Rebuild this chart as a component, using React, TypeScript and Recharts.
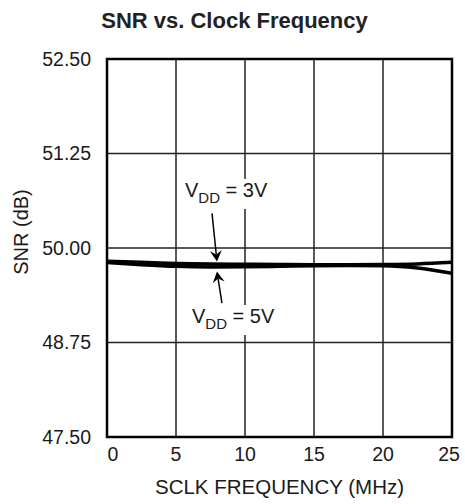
import React from "react"
import {
  CartesianGrid,
  Line,
  LineChart,
  ReferenceArea,
  ReferenceDot,
  ReferenceLine,
  XAxis,
  YAxis,
} from "recharts"

const freqMHz = [0, 2.5, 5, 7.5, 10, 12.5, 15, 17.5, 20, 22.5, 25]
const snrVdd3 = [49.825, 49.81, 49.795, 49.788, 49.785, 49.782, 49.78, 49.78, 49.782, 49.79, 49.81]
const snrVdd5 = [49.81, 49.78, 49.758, 49.75, 49.752, 49.758, 49.765, 49.768, 49.765, 49.735, 49.665]
const xTicks = [0, 5, 10, 15, 20, 25]
const yTicks = [47.5, 48.75, 50, 51.25, 52.5]

const data = freqMHz.map((f, i) => ({ f, v3: snrVdd3[i], v5: snrVdd5[i] }))

const FONT = "'Liberation Sans', Arial, sans-serif"
const INK = "#1a1a1a"

// arrow drawn from (x1,y1) to (x2,y2), head at the end
function Arrow(props: any) {
  const { x1, y1, x2, y2 } = props
  const dx = x2 - x1
  const dy = y2 - y1
  const len = Math.sqrt(dx * dx + dy * dy)
  const ux = dx / len
  const uy = dy / len
  const hl = 11
  const hw = 6
  const bx = x2 - ux * hl
  const by = y2 - uy * hl
  const p1 = `${bx - uy * hw},${by + ux * hw}`
  const p2 = `${bx + uy * hw},${by - ux * hw}`
  const notchX = x2 - ux * hl * 0.65
  const notchY = y2 - uy * hl * 0.65
  return (
    <g>
      <line x1={x1} y1={y1} x2={notchX} y2={notchY} stroke="#000" strokeWidth={1.5} />
      <polygon points={`${x2},${y2} ${p1} ${notchX},${notchY} ${p2}`} fill="#000" />
    </g>
  )
}

// label with a white box behind it, so the grid is knocked out under the text
function vddLabel(volts: string) {
  return (props: any) => {
    const { viewBox } = props
    const x = viewBox.x
    const y = viewBox.y
    return (
      <g>
        <rect x={x - 3} y={y - 18} width={92} height={30} fill="#fff" />
        <text x={x} y={y} fontFamily={FONT} fontSize={20} fill={INK}>
          V
          <tspan fontSize={15} dy={6}>DD</tspan>
          <tspan dy={-6}>{` = ${volts}`}</tspan>
        </text>
      </g>
    )
  }
}

// first/last tick labels are nudged inside the frame like the original
function FreqTick(props: any) {
  const { x, y, payload } = props
  let shift = 0
  if (payload.value === xTicks[0]) shift = 6
  if (payload.value === xTicks[xTicks.length - 1]) shift = -3
  return (
    <text x={x + shift} y={y + 15} textAnchor="middle" fontFamily={FONT} fontSize={19.5} fill={INK}>
      {payload.value}
    </text>
  )
}

export default function App() {
  return (
    <div style={{ position: "absolute", left: 0, top: 0, width: 465, height: 504, background: "#fff" }}>
      <div
        style={{
          position: "absolute",
          left: 0,
          top: 8,
          width: 469,
          textAlign: "center",
          fontFamily: FONT,
          fontWeight: "bold",
          fontSize: 22,
          color: "#222",
          lineHeight: "26px",
        }}
      >
        SNR vs. Clock Frequency
      </div>
      <LineChart
        width={465}
        height={504}
        data={data}
        margin={{ top: 59, right: 13, left: 0, bottom: 0 }}
        style={{ position: "absolute", left: 0, top: 0 }}
      >
        <CartesianGrid stroke="#222" strokeWidth={1.5} horizontalValues={yTicks} verticalValues={xTicks} />
        <XAxis
          dataKey="f"
          type="number"
          domain={[0, 25]}
          ticks={xTicks}
          height={67}
          axisLine={false}
          tickLine={false}
          tickSize={0}
          tickMargin={9}
          tick={FreqTick}
          label={(p: any) => {
            const vb = p.viewBox
            return (
              <text
                x={vb.x + vb.width / 2}
                y={494}
                textAnchor="middle"
                fontFamily={FONT}
                fontSize={20.5}
                fill={INK}
              >
                SCLK FREQUENCY (MHz)
              </text>
            )
          }}
        />
        <YAxis
          type="number"
          domain={[47.5, 52.5]}
          ticks={yTicks}
          width={107}
          axisLine={false}
          tickLine={false}
          tickSize={0}
          tickMargin={16}
          tickFormatter={(v: number) => v.toFixed(2)}
          tick={{ fill: INK, fontSize: 19.5, fontFamily: FONT }}
          label={(p: any) => {
            const vb = p.viewBox
            const cy = vb.y + vb.height / 2 - 16
            return (
              <text
                x={28}
                y={cy}
                transform={`rotate(-90, 28, ${cy})`}
                textAnchor="middle"
                fontFamily={FONT}
                fontSize={20}
                fill={INK}
              >
                SNR (dB)
              </text>
            )
          }}
        />
        <ReferenceDot x={5.65} y={50.675} r={0} fill="none" stroke="none" label={vddLabel("3V")} />
        <ReferenceDot x={6.16} y={49.008} r={0} fill="none" stroke="none" label={vddLabel("5V")} />
        <ReferenceArea x1={0} x2={25} y1={47.5} y2={52.5} fill="none" fillOpacity={0} stroke="#000" strokeWidth={2.5} />
        <Line
          type="monotone"
          dataKey="v3"
          stroke="#000"
          strokeWidth={3.5}
          dot={false}
          isAnimationActive={false}
        />
        <Line
          type="monotone"
          dataKey="v5"
          stroke="#000"
          strokeWidth={3.5}
          dot={false}
          isAnimationActive={false}
        />
        <ReferenceLine
          segment={[
            { x: 7.61, y: 50.46 },
            { x: 7.97, y: 49.82 },
          ]}
          shape={Arrow}
        />
        <ReferenceLine
          segment={[
            { x: 8.33, y: 49.27 },
            { x: 7.97, y: 49.69 },
          ]}
          shape={Arrow}
        />
      </LineChart>
    </div>
  )
}
